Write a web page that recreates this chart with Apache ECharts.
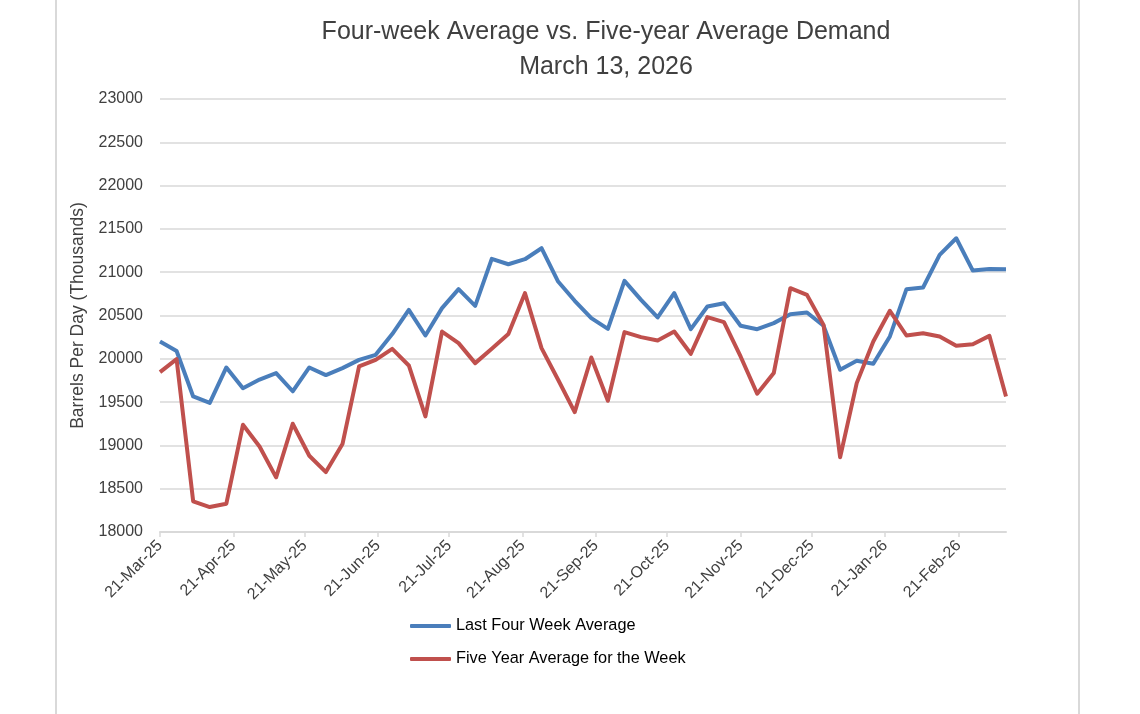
<!DOCTYPE html>
<html>
<head>
<meta charset="utf-8">
<script src="https://cdn.jsdelivr.net/npm/echarts@6/dist/echarts.min.js"></script>
<style>
html,body{margin:0;padding:0;background:#fff;}
#chart{width:1140px;height:714px;}
</style>
</head>
<body>
<div id="chart"></div>
<script>
// Weekly dates (Fridays)
const weekDates = [
 '2025-03-21','2025-03-28','2025-04-04','2025-04-11','2025-04-18','2025-04-25',
 '2025-05-02','2025-05-09','2025-05-16','2025-05-23','2025-05-30',
 '2025-06-06','2025-06-13','2025-06-20','2025-06-27',
 '2025-07-04','2025-07-11','2025-07-18','2025-07-25',
 '2025-08-01','2025-08-08','2025-08-15','2025-08-22','2025-08-29',
 '2025-09-05','2025-09-12','2025-09-19','2025-09-26',
 '2025-10-03','2025-10-10','2025-10-17','2025-10-24','2025-10-31',
 '2025-11-07','2025-11-14','2025-11-21','2025-11-28',
 '2025-12-05','2025-12-12','2025-12-19','2025-12-26',
 '2026-01-02','2026-01-09','2026-01-16','2026-01-23','2026-01-30',
 '2026-02-06','2026-02-13','2026-02-20','2026-02-27',
 '2026-03-06','2026-03-13'
];
const lastFourWeekAvg = [
 20200,20090,19565,19490,19900,19660,19760,19835,19625,19900,19812,
 19892,19988,20046,20285,20565,20269,20585,20804,20612,21154,21092,
 21150,21277,20892,20670,20469,20346,20900,20681,20477,20758,20342,
 20604,20642,20381,20342,20412,20515,20535,20381,19873,19977,19942,
 20258,20804,20823,21200,21392,21019,21038,21035
];
const fiveYearAvg = [
 19846,19996,18354,18288,18327,19238,18988,18631,19250,18881,18692,
 19015,19912,19988,20115,19923,19335,20315,20181,19950,20115,20285,
 20758,20123,19758,19385,20015,19515,20308,20250,20212,20315,20058,
 20481,20423,20027,19596,19835,20815,20738,20392,18862,19719,20200,
 20554,20269,20296,20258,20150,20169,20265,19565
];
const tickDates = [
 '2025-03-21','2025-04-21','2025-05-21','2025-06-21','2025-07-21','2025-08-21',
 '2025-09-21','2025-10-21','2025-11-21','2025-12-21','2026-01-21','2026-02-21'
];
const monthNames = ['Jan','Feb','Mar','Apr','May','Jun','Jul','Aug','Sep','Oct','Nov','Dec'];
const seriesNames = ['Last Four Week Average','Five Year Average for the Week'];
const titleText = 'Four-week Average vs. Five-year Average Demand\nMarch 13, 2026';
const yAxisName = 'Barrels Per Day (Thousands)';

const DAY = 86400000;
function ts(s){ const p = s.split('-').map(Number); return Date.UTC(p[0], p[1]-1, p[2]); }
const t0 = ts(weekDates[0]);
function dayNum(s){ return Math.round((ts(s) - t0) / DAY); }
function fmt(v){
  const d = new Date(t0 + Math.round(v) * DAY);
  return d.getUTCDate() + '-' + monthNames[d.getUTCMonth()] + '-' + String(d.getUTCFullYear()).slice(2);
}
const xs = weekDates.map(dayNum);
const ticks = tickDates.map(dayNum);
const FONT = 'Liberation Sans';

const chart = echarts.init(document.getElementById('chart'), null, {renderer:'canvas'});
chart.setOption({
  animation: false,
  backgroundColor: '#ffffff',
  textStyle: { fontFamily: FONT },
  title: {
    text: titleText,
    left: 601, top: 10,
    textAlign: 'center',
    textStyle: { fontFamily: FONT, fontSize: 25, fontWeight: 'normal', color: '#404040', lineHeight: 35 }
  },
  graphic: [
    { type: 'line', shape: { x1: 56, y1: 0, x2: 56, y2: 714 }, style: { stroke: '#d9d9d9', lineWidth: 2 } },
    { type: 'line', shape: { x1: 1079, y1: 0, x2: 1079, y2: 714 }, style: { stroke: '#d9d9d9', lineWidth: 2 } }
  ],
  legend: {
    orient: 'vertical',
    left: 405, top: 613,
    itemWidth: 41, itemHeight: 4,
    itemGap: 17,
    icon: 'roundRect',
    textStyle: { fontFamily: FONT, fontSize: 16.3, color: '#000000' },
    data: seriesNames
  },
  grid: { left: 160, right: 134, top: 99, bottom: 182 },
  xAxis: {
    type: 'value',
    min: xs[0], max: xs[xs.length-1],
    axisLine: { lineStyle: { color: '#d9d9d9', width: 2 } },
    axisTick: { show: true, length: 5, customValues: ticks, lineStyle: { color: '#d9d9d9', width: 1.5 } },
    axisLabel: {
      customValues: ticks,
      rotate: 45,
      margin: 11,
      fontSize: 16,
      color: '#404040',
      fontFamily: FONT,
      formatter: function(v){ return fmt(v); }
    },
    splitLine: { show: false }
  },
  yAxis: {
    type: 'value',
    min: 18000, max: 23000, interval: 500,
    name: yAxisName,
    nameLocation: 'middle',
    nameGap: 67,
    nameTextStyle: { fontFamily: FONT, fontSize: 17.5, color: '#404040' },
    axisLine: { show: false },
    axisTick: { show: false },
    axisLabel: { fontSize: 16, color: '#404040', margin: 17, fontFamily: FONT,
                 formatter: function(v){ return String(v); } },
    splitLine: { lineStyle: { color: '#d9d9d9', width: 1.5 } }
  },
  series: [
    {
      name: seriesNames[0], type: 'line',
      data: xs.map((x,i)=>[x, lastFourWeekAvg[i]]),
      showSymbol: false, symbol: 'none',
      lineStyle: { color: '#4a7ebb', width: 4, join: 'round' },
      itemStyle: { color: '#4a7ebb' }
    },
    {
      name: seriesNames[1], type: 'line',
      data: xs.map((x,i)=>[x, fiveYearAvg[i]]),
      showSymbol: false, symbol: 'none',
      lineStyle: { color: '#c0504d', width: 4, join: 'round' },
      itemStyle: { color: '#c0504d' }
    }
  ]
});
</script>
</body>
</html>
